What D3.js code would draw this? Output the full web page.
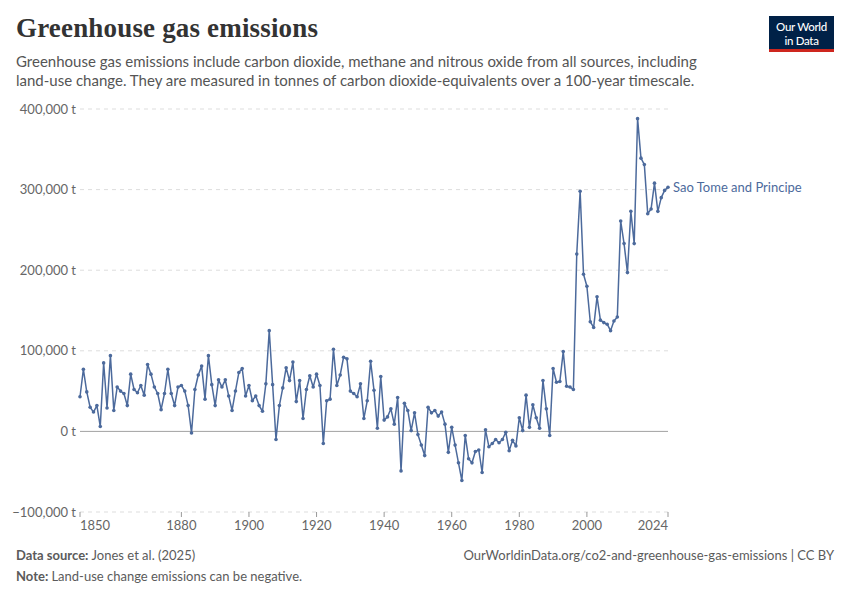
<!DOCTYPE html>
<html>
<head>
<meta charset="utf-8">
<script src="https://cdn.jsdelivr.net/npm/d3@7"></script>
<style>
  body { margin: 0; background: #fff; }
  text { font-family: Lato, "Noto Sans", sans-serif; }
</style>
</head>
<body>
<svg id="chart" width="850" height="600"></svg>
<script>
// Sao Tome and Principe, thousand tonnes CO2e per year, 1850-2024
const startYear = 1850;
const emissions = [
  43, 77, 49, 30, 24, 32, 6, 85, 29, 94,          // 1850s
  26, 55, 50, 47, 32, 71, 52, 48, 57, 45,         // 1860s
  83, 71, 55, 47, 27, 47, 77, 47, 32, 55,         // 1870s
  57, 50, 32, -2, 52, 70, 81, 40, 94, 58,         // 1880s
  32, 64, 55, 64, 44, 26, 50, 73, 78, 44,         // 1890s
  57, 38, 44, 32, 25, 59, 125, 58, -10, 32,       // 1900s
  54, 79, 63, 86, 37, 63, 16, 52, 69, 55,         // 1910s
  71, 57, -15, 38, 40, 102, 57, 70, 92, 90,       // 1920s
  50, 47, 43, 59, 16, 38, 87, 51, 4, 68,          // 1930s
  14, 18, 28, 9, 42, -49, 35, 26, 1, 23,          // 1940s
  -4, -17, -30, 30, 23, 26, 19, 24, 9, -26,       // 1950s
  5, -17, -39, -61, -5, -34, -39, -25, -23, -51,  // 1960s
  2, -19, -15, -10, -14, -10, -1, -24, -11, -18,  // 1970s
  17, 1, 45, 5, 33, 17, 4, 63, 28, -5,            // 1980s
  78, 61, 62, 99, 56, 55, 52, 220, 298, 195,      // 1990s
  180, 136, 129, 167, 138, 135, 133, 125, 137, 142, // 2000s
  261, 233, 197, 273, 233, 388, 339, 331, 270, 276, // 2010s
  308, 273, 290, 299, 303                         // 2020s
];
const xTicks = [1850, 1880, 1900, 1920, 1940, 1960, 1980, 2000, 2024];
const yTicks = [-100000, 0, 100000, 200000, 300000, 400000];
const entityName = "Sao Tome and Principe";

const data = emissions.map((v, i) => ({ year: startYear + i, value: v * 1000 }));

const svg = d3.select("#chart");
const lineColor = "#4c6a9c";

const x = d3.scaleLinear().domain([1850, 2024]).range([80, 668]);
const y = d3.scaleLinear().domain([-100000, 400000]).range([512, 109]);

// header
svg.append("text")
  .attr("x", 16).attr("y", 37)
  .attr("font-size", 27)
  .attr("font-weight", 700)
  .attr("fill", "#333")
  .attr("textLength", 302)
  .style("font-family", "'Liberation Serif', 'DejaVu Serif', serif")
  .text("Greenhouse gas emissions");

const subtitle = [
  "Greenhouse gas emissions include carbon dioxide, methane and nitrous oxide from all sources, including",
  "land-use change. They are measured in tonnes of carbon dioxide-equivalents over a 100-year timescale."
];
svg.selectAll(".sub").data(subtitle).join("text")
  .attr("class", "sub")
  .attr("x", 16).attr("y", (d, i) => 67 + i * 19)
  .attr("font-size", 15)
  .attr("fill", "#555")
  .text(d => d);

// logo
const logo = svg.append("g").attr("transform", "translate(769,16)");
logo.append("rect").attr("width", 65).attr("height", 36).attr("fill", "#002147");
logo.append("rect").attr("y", 33).attr("width", 65).attr("height", 3).attr("fill", "#ce261e");
logo.selectAll("text").data(["Our World", "in Data"]).join("text")
  .attr("x", 32.5).attr("y", (d, i) => 15 + i * 14)
  .attr("text-anchor", "middle")
  .attr("font-size", 11.5)
  .attr("font-weight", 500)
  .attr("fill", "#fff")
  .attr("letter-spacing", -0.3)
  .text(d => d);

// grid + y axis
const grid = svg.append("g");
grid.selectAll("line").data(yTicks).join("line")
  .attr("x1", 80).attr("x2", 668)
  .attr("y1", d => y(d)).attr("y2", d => y(d))
  .attr("stroke", d => d === 0 ? "#a1a1a1" : "#dddddd")
  .attr("stroke-width", 1)
  .attr("stroke-dasharray", d => d === 0 ? null : "4,4");

grid.selectAll("text").data(yTicks).join("text")
  .attr("x", 76).attr("y", d => y(d) + 4.5)
  .attr("text-anchor", "end")
  .attr("font-size", 13)
  .attr("fill", "#666")
  .text(d => d3.format(",")(d) + " t");

// x axis
const xAxis = svg.append("g").attr("transform", "translate(0,512)");
xAxis.selectAll("line").data(xTicks).join("line")
  .attr("x1", d => x(d)).attr("x2", d => x(d))
  .attr("y1", 0).attr("y2", 5)
  .attr("stroke", "#999");
xAxis.selectAll("text").data(xTicks).join("text")
  .attr("x", d => x(d))
  .attr("y", 18)
  .attr("text-anchor", (d, i) => i === 0 ? "start" : i === xTicks.length - 1 ? "end" : "middle")
  .attr("font-size", 13)
  .attr("fill", "#666")
  .text(d => d);

// series
const line = d3.line().x(d => x(d.year)).y(d => y(d.value));
svg.append("path")
  .datum(data)
  .attr("fill", "none")
  .attr("stroke", lineColor)
  .attr("stroke-width", 1.5)
  .attr("stroke-linejoin", "round")
  .attr("d", line);

svg.append("g").selectAll("circle").data(data).join("circle")
  .attr("cx", d => x(d.year)).attr("cy", d => y(d.value))
  .attr("r", 1.8)
  .attr("fill", lineColor);

const last = data[data.length - 1];
svg.append("text")
  .attr("x", x(last.year) + 5).attr("y", y(last.value) + 4.5)
  .attr("font-size", 13)
  .attr("fill", lineColor)
  .text(entityName);

// footer
const foot = svg.append("g").attr("font-size", 13).attr("fill", "#5b5b5b");
const src = foot.append("text").attr("x", 16).attr("y", 560);
src.append("tspan").attr("font-weight", 700).text("Data source: ");
src.append("tspan").text("Jones et al. (2025)");
foot.append("text").attr("x", 834).attr("y", 560).attr("text-anchor", "end")
  .text("OurWorldinData.org/co2-and-greenhouse-gas-emissions | CC BY");
const note = foot.append("text").attr("x", 16).attr("y", 581);
note.append("tspan").attr("font-weight", 700).text("Note: ");
note.append("tspan").text("Land-use change emissions can be negative.");
</script>
</body>
</html>
